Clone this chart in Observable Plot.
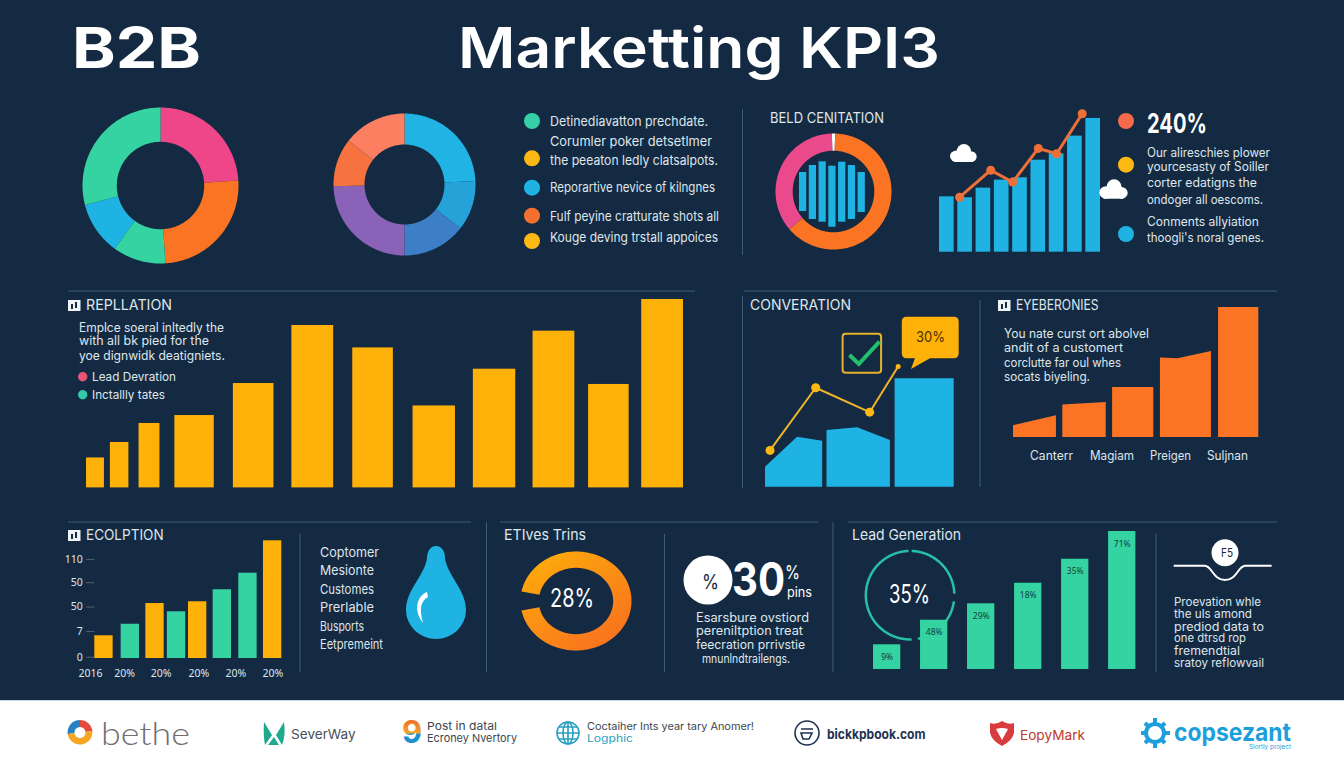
<!DOCTYPE html>
<html><head><meta charset="utf-8">
<style>
html,body{margin:0;padding:0;background:#142a42;}
#page{position:relative;width:1344px;height:768px;overflow:hidden;background:#142a42;font-family:"Inter","Open Sans",sans-serif;color:#dfe6ec;}
#strip{position:absolute;left:0;top:700px;width:1344px;height:68px;background:#fff;border-top:1px solid #c6d4e0;box-sizing:border-box;}
.t{position:absolute;white-space:nowrap;line-height:1.2;transform-origin:left center;}
svg.plot-panel{position:absolute;max-width:none;overflow:visible;background:transparent;}
</style>
<script src="https://cdn.jsdelivr.net/npm/d3@7"></script>
<script src="https://cdn.jsdelivr.net/npm/@observablehq/plot@0.6"></script>
</head><body><div id="page"><div id="strip"></div></div>
<script>
// ---------- data ----------
const amber="#feb109", teal="#35d3a2", sky="#1fb3e3", orange="#fb7423", pink="#ef4689";
const donutAShares=[24,25,11,11,29];
const donutAColors=[pink,orange,teal,sky,teal];
const donutBShares=[24.2,11.4,14.4,24.6,11,14.4];
const donutBColors=["#20b3e4","#25a3d8","#3c7fc6","#8a62b8","#f6733f","#fb7f60"];
const donutCShares=[0.9,63.3,35.8];
const donutCColors=["#ffffff",orange,"#ea4a8c"];
const innerLow=[16,8,5.3,0.3,5.3,8,15];
const innerHigh=[55,62,65.7,61.3,65.3,62,55];
const growthBars=[41.4,40.7,47.9,53.9,55.6,68.8,73.6,86.8,100];
const growthLineX=[0.7,2.4,3.6,5,6,7.4];
const growthLineY=[41.1,61.3,52.4,77.6,73.6,103.5];
const replStart=[0,4,8.8,14.8,24.6,34.4,44.6,54.7,64.8,74.8,84.1,93];
const replEnd=[3,7.1,12.3,21.4,31.4,41.4,51.4,61.8,71.9,81.8,90.9,100];
const replValues=[15.9,24.1,34.2,38.4,55.4,86.2,74.3,43.5,63,83.2,54.9,100];
const convBlock=[0,0,0,1,1,1,2,2];
const convX=[0,17,30.3,32.6,48.8,66.2,68.7,100];
const convY=[18.5,46.1,42.4,52.3,54.8,43.1,100,100];
const convLineX=[2.4,26.6,55.2,70.3];
const convLineY=[33.9,91.7,69.2,111.3];
const eyeBlock=[0,0,1,1,2,2,3,3,3,4,4];
const eyeX=[0,17.5,20.1,37.8,40.4,57.2,59.9,67,80.7,83.6,100];
const eyeY=[9,16.7,24.9,26.9,38.5,38.5,61.1,60.5,66.2,100,100];
const ecoCenters=[4.9,19,32.2,43.7,55,68.2,81.9,95.1];
const ecoValues=[19.3,29.1,46.7,39.7,48.2,58.4,72.5,100];
const ecoColors=[amber,teal,amber,teal,amber,teal,teal,amber];
const ecoTickValues=[84.2,64.4,43.7,23,1.1];
const ecoTickLabels=["110","50","50","7","0"];
const ecoYearPositions=[-2.3,15.9,35.5,55.6,75.4,95.2];
const ecoYearLabels=["2016","20%","20%","20%","20%","20%"];
const gaugeDegrees=[281,619];
const leadValues=[17.9,35.7,47.6,62.5,79.9,100];
const leadLabels=["9%","48%","29%","18%","35%","71%"];
const leadRingDegrees=[[2,88],[98,170],[178,358]];

// ---------- helpers ----------
const page=document.getElementById("page");
function panel(left,top,width,height,options){
  const svg=Plot.plot({width,height,margin:0,...options});
  svg.setAttribute("class",(svg.getAttribute("class")||"")+" plot-panel");
  svg.style.left=left+"px"; svg.style.top=top+"px"; svg.style.background="transparent";
  page.appendChild(svg);
}
function label(text,x,y,size,o={}){
  const el=document.createElement("div");
  el.className="t"; el.textContent=text;
  el.style.left=x+"px"; el.style.top=y+"px"; el.style.fontSize=size+"px";
  el.style.color=o.color||"#dfe6ec"; el.style.fontWeight=o.weight||400;
  if(o.font) el.style.fontFamily=o.font;
  if(o.lh) el.style.lineHeight=o.lh;
  el.style.transform="translateY(-50%)";
  page.appendChild(el);
  if(o.w){const k=o.w/el.getBoundingClientRect().width; el.style.transform=`translateY(-50%) scaleX(${k})`;}
}
// polar mapping handed to Plot as its projection: [angle in radians, radius]
function polar(cx,cy,sx,sy){
  return d3.geoTransform({point(a,r){this.stream.point(cx+sx*r*Math.sin(a),cy-sy*r*Math.cos(a));}});
}
function ringSector(a0,a1,r0,r1){
  const n=Math.max(2,Math.ceil(Math.abs(a1-a0)/0.02));
  const t=d3.range(n+1).map(i=>a0+(a1-a0)*i/n);
  const ring=[...t.map(a=>[a,r1]),...t.slice().reverse().map(a=>[a,r0])];
  ring.push(ring[0]);
  return {type:"Polygon",coordinates:[ring]};
}
function donut(cx,cy,R,r,shares,colors,start=0){
  const arcs=d3.pie().sort(null).startAngle(start).endAngle(start+2*Math.PI)(shares);
  const s=2*R+8;
  panel(cx-s/2,cy-s/2,s,s,{projection:polar(s/2,s/2,1,1),
    marks:arcs.map((a,i)=>Plot.geo([ringSector(a.startAngle,a.endAngle,r,R)],{fill:colors[i]}))});
}
const rad=d=>d*Math.PI/180;

// ---------- donuts ----------
donut(159.5,184.7,78,43.7,donutAShares,donutAColors);
donut(403.8,183.7,71,40,donutBShares,donutBColors);
donut(832.5,191.2,58,40.8,donutCShares,donutCColors,-rad(1.6));

// inner bars of the ring
panel(799,161,67,66,{x:{domain:[-0.37,6.49],axis:null},y:{domain:[0,66],axis:null},marks:[
  Plot.rect(innerLow,{x1:(d,i)=>i-0.37,x2:(d,i)=>i+0.37,y1:d=>d,y2:(d,i)=>innerHigh[i],fill:sky})]});

// growth bars + line
panel(939,105,161,146.7,{x:{domain:[-0.4,8.4],axis:null},y:{domain:[0,109.7],axis:null},marks:[
  Plot.rect(growthBars,{x1:(d,i)=>i-0.4,x2:(d,i)=>i+0.4,y1:0,y2:d=>d,fill:sky}),
  Plot.line(growthLineX,{x:d=>d,y:(d,i)=>growthLineY[i],stroke:"#ee7038",strokeWidth:3}),
  Plot.dot(growthLineX,{x:d=>d,y:(d,i)=>growthLineY[i],r:4.5,fill:"#ee7038"})]});

// replication
panel(85.7,299.3,597,188.4,{x:{domain:[0,100],axis:null},y:{domain:[0,100],axis:null},marks:[
  Plot.rect(replValues,{x1:(d,i)=>replStart[i],x2:(d,i)=>replEnd[i],y1:0,y2:d=>d,fill:amber})]});

// conversion
const convRows=convX.map((x,i)=>({x,y:convY[i],b:convBlock[i]}));
const convLine=convLineX.map((x,i)=>({x,y:convLineY[i]}));
panel(764.8,340,188.7,146.7,{x:{domain:[0,100],axis:null},y:{domain:[0,135.3],axis:null},marks:[
  Plot.areaY(convRows,{x:"x",y:"y",z:"b",fill:sky}),
  Plot.line(convLine,{x:"x",y:"y",stroke:"#f0b429",strokeWidth:2}),
  Plot.dot(convLine.slice(0,3),{x:"x",y:"y",r:4.5,fill:"#fdb813"}),
  Plot.dot(convLine.slice(3),{x:"x",y:"y",r:2.5,fill:"#fdb813"})]});

// eyeberonies
const eyeRows=eyeX.map((x,i)=>({x,y:eyeY[i],b:eyeBlock[i]}));
panel(1013,306.7,245.3,130,{x:{domain:[0,100],axis:null},y:{domain:[0,100],axis:null},marks:[
  Plot.areaY(eyeRows,{x:"x",y:"y",z:"b",fill:orange})]});

// ecolution
const ecoTick=new Map(ecoTickValues.map((v,i)=>[v,ecoTickLabels[i]]));
const ecoYear=new Map(ecoYearPositions.map((v,i)=>[v,ecoYearLabels[i]]));
panel(60,535,230,145,{marginLeft:34.3,marginRight:8.7,marginTop:5.3,marginBottom:22,
  x:{domain:[0,100],axis:null},y:{domain:[0,100],axis:null},marks:[
  Plot.axisY({ticks:ecoTickValues,tickFormat:d=>ecoTick.get(d),tickSize:8,tickPadding:4,stroke:"#4a6478",fill:"#dfe6ec",fontSize:10.5,label:null}),
  Plot.axisX({ticks:ecoYearPositions,tickFormat:d=>ecoYear.get(d),tickSize:0,tickPadding:11,fill:"#dfe6ec",fontSize:10.5,label:null}),
  Plot.rect(ecoValues,{x1:(d,i)=>ecoCenters[i]-4.9,x2:(d,i)=>ecoCenters[i]+4.9,y1:0,y2:d=>d,fill:(d,i)=>ecoColors[i]})],
  color:{type:"identity"}});

// gauge (elliptical ring with gradient)
panel(515,545,120,110,{projection:polar(60.5,55.5,55.5,49.5),marks:[
  ()=>{const defs=d3.create("svg:defs");
    const g=defs.append("linearGradient").attr("id","gaugeFill").attr("x1",0).attr("y1",0).attr("x2",0.8).attr("y2",1);
    g.append("stop").attr("offset","0%").attr("stop-color","#feb109");
    g.append("stop").attr("offset","100%").attr("stop-color","#f8701f");
    return defs.node();},
  Plot.geo([ringSector(rad(gaugeDegrees[0]),rad(gaugeDegrees[1]),0.67,1)],{fill:"url(#gaugeFill)"})]});

// lead ring + bars
panel(860,545,100,100,{projection:polar(49.6,49.7,1,1),marks:
  leadRingDegrees.map(([a,b])=>Plot.geo([ringSector(rad(a),rad(b),43,45.5)],{fill:"#27bfa6"}))});
panel(872.6,531,262.4,138,{x:{domain:[-0.29,5.29],axis:null},y:{domain:[0,100],axis:null},marks:[
  Plot.rect(leadValues,{x1:(d,i)=>i-0.29,x2:(d,i)=>i+0.29,y1:0,y2:d=>d,fill:teal}),
  Plot.text(leadValues,{x:(d,i)=>i,y:d=>d,dy:12.5,text:(d,i)=>leadLabels[i],fill:"#12403f",fontSize:8.5})]});

// ---------- decorative icons ----------
const rules=[[68,291,695,291],[744,291,1277,291],[68,522,471,522],[500,522,818,522],[848,522,1277,522],
 [742.5,109,742.5,255],[742.5,296,742.5,488],[980,300,980,487],[300,534,300,672],[486.5,522,486.5,672],
 [664.5,534,664.5,672],[833,522,833,672],[1156,534,1156,672]];
function cloud(x,y,w,h){return `<g fill="#fff"><ellipse cx="${x+w*.52}" cy="${y+h*.42}" rx="${w*.27}" ry="${h*.42}"/><ellipse cx="${x+w*.24}" cy="${y+h*.68}" rx="${w*.24}" ry="${h*.32}"/><ellipse cx="${x+w*.78}" cy="${y+h*.7}" rx="${w*.22}" ry="${h*.3}"/><rect x="${x+w*.15}" y="${y+h*.55}" width="${w*.7}" height="${h*.45}"/></g>`;}
function tag(x,y){return `<rect x="${x}" y="${y}" width="12.5" height="11" fill="#eef3f7"/><path d="M${x+4} ${y+9}V${y+4}M${x+8} ${y+8}V${y+2}" stroke="#142a42" stroke-width="2"/>`;}
const dots=[[532,121,"#35d0a5"],[532,158.3,"#fdb813"],[532,187.7,sky],[532,215.7,"#f4702f"],[532,241,"#fdb813"],
 [1126,121,"#f46a4a"],[1126,164.7,"#fdb813"],[1126,234,sky]];
const ov=document.createElementNS("http://www.w3.org/2000/svg","svg");
ov.setAttribute("width",1344);ov.setAttribute("height",768);
ov.style.cssText="position:absolute;left:0;top:0;pointer-events:none;";
ov.innerHTML=
 rules.map(r=>`<line x1="${r[0]}" y1="${r[1]}" x2="${r[2]}" y2="${r[3]}" stroke="#3f5c72" stroke-width="1"/>`).join("")+
 dots.map(d=>`<circle cx="${d[0]}" cy="${d[1]}" r="8" fill="${d[2]}"/>`).join("")+
 `<circle cx="82.7" cy="376.7" r="4.7" fill="#e8557a"/><circle cx="82.7" cy="394.7" r="4.7" fill="#35c9a5"/>`+
 cloud(950,144,26.7,18)+cloud(1099.3,179.3,28.4,19.4)+
 tag(68,300)+tag(998,300)+tag(68,530)+
 `<rect x="842.6" y="333.7" width="38.5" height="39" rx="3" fill="none" stroke="#e8b32a" stroke-width="2"/>
  <path d="M849.5 355L858.8 364L879.5 341.7" fill="none" stroke="#22c06e" stroke-width="4"/>
  <path d="M906.8 316.7H953.7Q958.7 316.7 958.7 321.7V353.3Q958.7 358.3 953.7 358.3H930L911 369L915 358.3H906.8Q901.8 358.3 901.8 353.3V321.7Q901.8 316.7 906.8 316.7Z" fill="${amber}"/>
  <path d="M436 546C442 546 445 552 445 558C447 575 466 590 466 610A30 29 0 0 1 406 610C406 590 425 575 427 558C427 552 430 546 436 546Z" fill="${sky}"/>
  <path d="M427 592C417 596 413 610 423 623C420 612 419 602 428 597Z" fill="#fff"/>
  <circle cx="708" cy="580" r="24.5" fill="#fff"/>
  <circle cx="1225" cy="552.7" r="13.5" fill="#fff"/>
  <path d="M1173.7 565.7H1205C1212 566 1213 580 1225 580C1237 580 1238 566 1245 565.7H1271.6" fill="none" stroke="#fff" stroke-width="2"/>`+
 // logo icons
 `<path d="M80 732.5V720A12.5 12.5 0 0 0 67.6 734Z" fill="#2680c2"/><path d="M80 732.5V720A12.5 12.5 0 0 1 92.4 731L80 732.5Z" fill="#e64a3c"/><path d="M80 732.5L92.4 731A12.5 12.5 0 0 1 67.6 734Z" fill="#f5a623"/><circle cx="80" cy="732.5" r="5.5" fill="#fff"/>
  <path d="M264 722L272 735L265 745Q263 735 264 722ZM284 722L276 735L282 745Q286 735 284 722ZM274 737L268 745H279Z" fill="#1fa98f"/>
  <defs><linearGradient id="nine" x1="0" y1="0" x2="0" y2="1"><stop offset="0" stop-color="#e8522f"/><stop offset=".55" stop-color="#f5a623"/><stop offset=".56" stop-color="#1f8fd0"/><stop offset="1" stop-color="#1f8fd0"/></linearGradient></defs>
  <text x="402" y="743" font-size="31" font-weight="700" fill="url(#nine)" font-family="Inter">9</text>
  <g fill="none" stroke="#2a9fc0" stroke-width="1.6"><circle cx="568" cy="733" r="11"/><ellipse cx="568" cy="733" rx="5" ry="11"/><path d="M557 733H579M559 727H577M559 739H577M568 722V744"/></g>
  <g fill="none" stroke="#1e3250" stroke-width="1.6"><circle cx="807" cy="733" r="12"/><path d="M801 729H813M801 733H812L809 739H803Z"/></g>
  <path d="M990 723Q996 725 1002 721Q1008 725 1014 723V733Q1012 741 1002 746Q992 741 990 733Z" fill="#d93c3c"/><path d="M996 729Q1002 727 1008 729L1002 740Z" fill="#fff"/>
  <g fill="none" stroke="#1c9fdc" stroke-width="4"><circle cx="1155" cy="733" r="9"/><path d="M1155 718V724M1155 742V748M1141 733H1147M1163 733H1170M1145 723L1149 727M1161 739L1165 743M1145 743L1149 739M1161 727L1165 723"/></g>`;
page.appendChild(ov);

// ---------- text ----------
const W="#ffffff";
label("B2B",72,49,56,{weight:700,color:W,w:129});
label("Marketting KPI3",458,49,56,{weight:600,color:W,w:482});
[["Detinediavatton prechdate.",121.7,158],["Corumler poker detsetlmer",141.7,162],["the peeaton ledly clatsalpots.",160.7,168],
 ["Reporartive nevice of kilngnes",188.3,165],["Fulf peyine cratturate shots all",216.7,169],["Kouge deving trstall appoices",238.3,168]]
 .forEach(([s,y,w])=>label(s,550,y,13,{w}));
label("BELD CENITATION",770,117.7,14,{w:114});
label("240%",1147,124,27,{weight:700,color:W,w:60});
[["Our alireschies plower",151.7,123],["yourcesasty of Soiller",166,122],["corter edatigns the",181.7,110],
 ["ondoger all oescoms.",199.3,116],["Conments allyiation",221,112],["thoogli's noral genes.",236.7,117]]
 .forEach(([s,y,w])=>label(s,1147,y,12.5,{w}));
label("REPLLATION",86,305,14,{w:86});
[["Emplce soeral inltedly the",326.7,145],["with all bk pied for the",340,130],["yoe dignwidk deatigniets.",355,146]]
 .forEach(([s,y,w])=>label(s,79,y,12.5,{w}));
label("Lead Devration",91.7,376.7,12,{w:84});
label("Inctallly tates",91.7,394.7,12,{w:73});
label("CONVERATION",750,305,14,{w:101});
label("30%",915.6,336.7,15,{color:"#4a3200",w:29});
label("EYEBERONIES",1015.5,305,14,{w:82.6});
[["You nate curst ort abolvel",333.3,145],["andit of a customert",347.3,119],["corclutte far oul whes",361.7,117],["socats biyeling.",376,86]]
 .forEach(([s,y,w])=>label(s,1004,y,12.5,{w}));
[["Canterr",1030,43],["Magiam",1089.9,44],["Preigen",1149.8,41],["Suljnan",1206.6,41]]
 .forEach(([s,x,w])=>label(s,x,455,12.5,{w}));
label("ECOLPTION",85.7,535,14,{w:77.6});
[["Coptomer",552.7,59],["Mesionte",571,54],["Customes",589.7,54],["Prerlable",608,54],["Busports",627,44],["Eetpremeint",645,63]]
 .forEach(([s,y,w])=>label(s,320,y,13,{w}));
label("ETIves Trins",503.8,535,15,{w:82});
label("28%",549.7,598,26,{w:44,color:W});
label("%",701.7,581.7,20,{color:"#142a42",w:17});
label("30",732.3,580,46,{weight:700,color:W,w:53});
label("%",785,573,19,{color:W,w:15});
label("pins",787.4,593,13,{color:W,w:25});
[["Esarsbure ovstiord",695.6,616.7,113],["pereniltption treat",695.6,630,107],["feecration prrivstie",695.6,644.3,109],["mnunlndtrailengs.",701.7,658.3,88]]
 .forEach(([s,x,y,w])=>label(s,x,y,12.5,{w}));
label("Lead Generation",852,535,15,{w:109});
label("35%",889,594.3,26,{w:41,color:W});
label("F5",1220.6,552.7,12,{color:"#142a42",w:12});
[["Proevation whle",603.3,87],["the uls amond",615,78],["prediod data to",627.7,90],["one dtrsd rop",639.3,72],["fremendtial",651.7,66],["sratoy reflowvail",664,90]]
 .forEach(([s,y,w])=>label(s,1173.7,y,11.5,{w}));
// logo strip
label("bethe",101,733,32,{color:"#6f6f6f",weight:300,w:89,font:"Lato"});
label("SeverWay",291,735,13,{color:"#44505a",w:64.6});
label("Post in datal",427,726.7,11,{color:"#3b4650",w:70});
label("Ecroney Nvertory",427,738.7,11,{color:"#3b4650",w:90});
label("Coctaiher Ints year tary Anomer!",587,727,10.5,{color:"#3b4650",w:167});
label("Logphic",587,739,10.5,{color:"#2a9fc0",w:46});
label("bickkpbook.com",827,735,13,{color:"#1e3250",weight:700,w:98.5});
label("EopyMark",1020,735,13.5,{color:"#c0392b",w:65});
label("copsezant",1174,732,25,{color:"#1c9fdc",weight:700,w:117,lh:1});
label("Slortly project",1249,748,5.5,{color:"#1c9fdc",w:42,lh:1});
</script></body></html>
